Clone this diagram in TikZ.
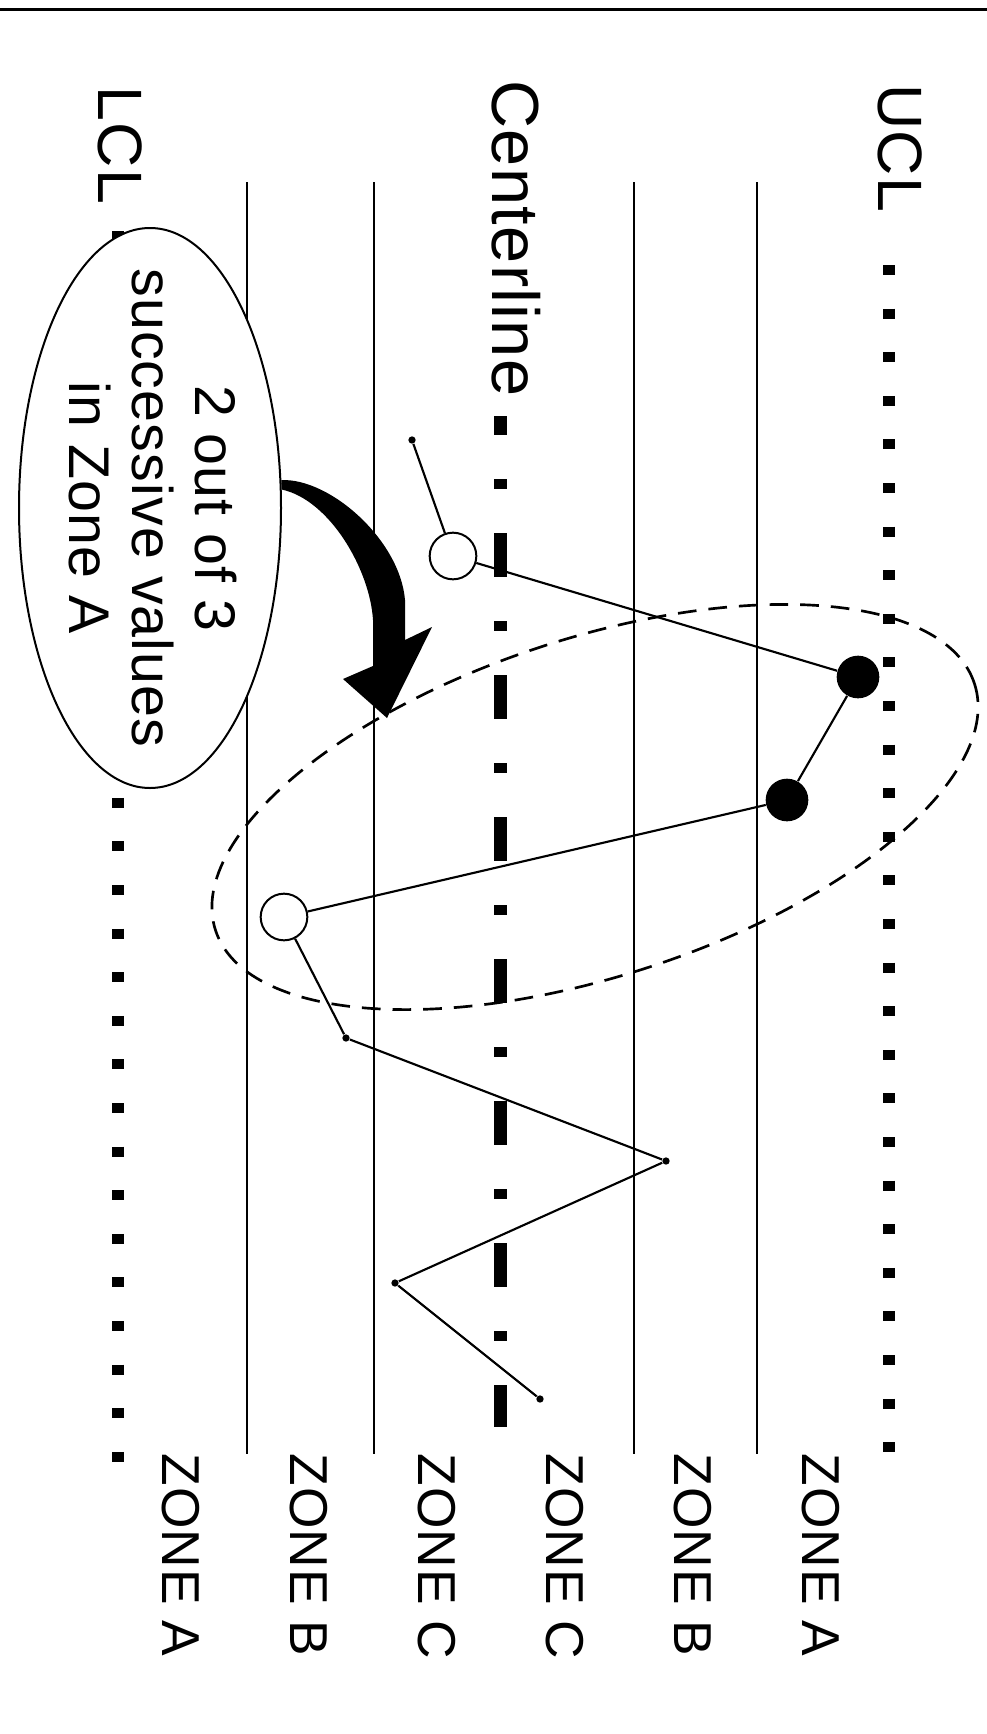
\documentclass[tikz,border=0pt]{standalone}
\usepackage{fontspec}
\setmainfont[LetterSpace=2.0]{Liberation Sans}
\usetikzlibrary{shapes.geometric}

\tikzset{every picture/.style={line width=0.75pt}}
\tikzset{
	zoneline/.style={line width=1.5pt},
	limitline/.style={line width=9pt, dash pattern=on 7.5pt off 25.2pt},
	midline/.style={line width=9.75pt, dash pattern=on 33pt off 33pt on 7.5pt off 33pt, dash phase=18.75pt},
	trace/.style={line width=1.6pt},
	openpt/.style={circle, draw, fill=white, line width=1.5pt, minimum size=35pt, inner sep=0pt},
	fullpt/.style={circle, fill=black, minimum size=32pt, inner sep=0pt},
	smallpt/.style={circle, fill=black, minimum size=5.5pt, inner sep=0pt},
	sidelabel/.style={rotate=-90, anchor=west, inner sep=0pt},
	zonelabel/.style={rotate=-90, anchor=west, inner sep=0pt, font=\fontsize{40}{48}\selectfont},
}

\begin{document}
\begin{tikzpicture}[x=0.75pt,y=0.75pt,yscale=-1,xscale=1]
			\useasboundingbox (0,0) rectangle (987,1734);
			%Straight Lines: top rule
			\draw [line width=2.25pt]  (0,10) -- (987,10) ;
			%Straight Lines: zone borders
			\foreach \x in {247,374,634,757}
				\draw [zoneline]  (\x,182) -- (\x,1454) ;
			%Straight Lines: control limits
			\draw [limitline]  (889,265) -- (889,1452) ;
			\draw [limitline]  (118,231) -- (118,1462) ;
			%Straight Lines: centre line
			\draw [midline]  (500,416) -- (500,1427) ;

			% Text Node
			\node [sidelabel, font=\fontsize{47}{56}\selectfont] (ucl) at (900,84) {UCL};
			% Text Node
			\node [sidelabel, font=\fontsize{50}{60}\selectfont] (cl) at (516,80) {Centerline};
			% Text Node
			\node [sidelabel, font=\fontsize{47}{56}\selectfont] (lcl) at (120,86) {LCL};
			% Text Node
			\foreach \x/\z in {181/A,309/B,437/C,565/C,693/B,821/A}
				\node [zonelabel] (zone\x) at (\x,1453) {ZONE \z};

			%Shape: Ellipse (dashed ring)
			\node [ellipse, draw, line width=2pt, dash pattern=on 14pt off 9pt, rotate=18, minimum width=598.5pt, minimum height=253.5pt, inner sep=0pt] (ring) at (595,807) {};

			%Shape: points
			\node [smallpt] (p1) at (412,440) {};
			\node [openpt] (p2) at (453,556) {};
			\node [fullpt] (p3) at (858,677) {};
			\node [fullpt] (p4) at (787,800) {};
			\node [openpt] (p5) at (284,917) {};
			\node [smallpt] (p6) at (346,1038) {};
			\node [smallpt] (p7) at (666,1161) {};
			\node [smallpt] (p8) at (395,1283) {};
			\node [smallpt] (p9) at (540,1399) {};
			%Straight Lines: trace
			\draw [trace]  (p1) -- (p2) -- (p3) -- (p4) -- (p5) -- (p6) -- (p7) -- (p8) -- (p9) ;

			%Shape: Ellipse (callout)
			\node [ellipse, draw, fill=white, line width=1.5pt, minimum width=196.5pt, minimum height=420pt, inner sep=0pt] (callout) at (150,508) {};
			% Text Node
			\node [rotate=-90, align=center, inner sep=0pt, font=\fontsize{43}{47}\selectfont] (note) at (153,508) {2 out of 3\\successive values\\in Zone A};

			%Shape: curved arrow
			\fill  (callout.12) .. controls (330,478) and (400,540) .. (405,600) -- (405,640) -- (432,627) -- (387,718) -- (343,679) -- (373,666) -- (373,620) .. controls (370,570) and (330,500) .. (callout.8) -- cycle ;

		\end{tikzpicture}
\end{document}
